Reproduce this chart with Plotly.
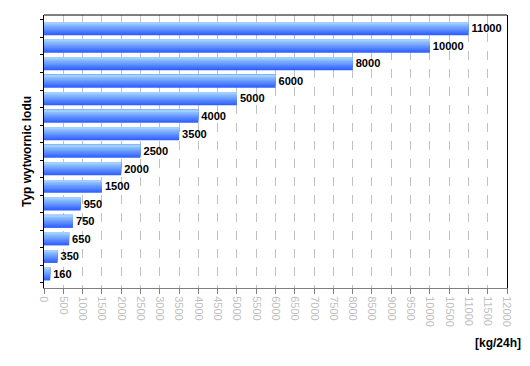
import plotly.graph_objects as go

categories = ["160", "350", "650", "750", "950", "1500", "2000", "2500",
              "3500", "4000", "5000", "6000", "8000", "10000", "11000"]
values = [160, 350, 650, 750, 950, 1500, 2000, 2500,
          3500, 4000, 5000, 6000, 8000, 10000, 11000]
x_ticks = list(range(0, 12001, 500))

# vertical gradient simulated with overlapping stripes (bottom -> top)
top_rgb = (160, 208, 255)
bot_rgb = (48, 96, 255)
n = 10
bar_w = 0.74
w = bar_w / n

fig = go.Figure()
for i in range(n):
    t = i / (n - 1)
    c = tuple(round(bot_rgb[k] + (top_rgb[k] - bot_rgb[k]) * t) for k in range(3))
    fig.add_trace(go.Bar(
        y=categories, x=values, orientation="h",
        width=bar_w - i * w, offset=-bar_w / 2 + i * w,
        marker=dict(color="rgb(%d,%d,%d)" % c, line=dict(width=0)),
        showlegend=False, hoverinfo="skip",
    ))

fig.add_trace(go.Bar(
    y=categories, x=values, orientation="h",
    width=bar_w, offset=-bar_w / 2,
    marker=dict(color="rgba(0,0,0,0)", line=dict(width=0)),
    text=[str(v) for v in values], textposition="outside",
    textfont=dict(family="Liberation Sans, Arial", size=12, color="black"),
    texttemplate="<b>%{text}</b>", cliponaxis=False,
    showlegend=False, hoverinfo="skip",
))

fig.update_layout(
    width=530, height=366,
    margin=dict(l=44, r=23, t=15, b=78),
    paper_bgcolor="white", plot_bgcolor="white",
    barmode="overlay",
    font=dict(family="Liberation Sans, Arial"),
    xaxis=dict(
        range=[0, 12000], tickvals=x_ticks, ticktext=[str(v) for v in x_ticks],
        tickangle=90, tickfont=dict(size=11, color="#c0c0c0"),
        showgrid=True, gridcolor="#c0c0c0", griddash="dash", gridwidth=1,
        showline=True, linecolor="#808080", linewidth=1,
        ticks="outside", ticklen=5, tickcolor="#808080",
        zeroline=False, fixedrange=True, automargin=False,
    ),
    yaxis=dict(
        type="category", categoryorder="array", categoryarray=categories,
        range=[-0.8, 14.78], showticklabels=False,
        ticks="outside", tickson="boundaries", ticklen=3, tickcolor="black",
        showline=True, linecolor="black", linewidth=1, mirror=True,
        showgrid=False, zeroline=False, automargin=False,
        title=dict(text="<b>Typ wytwornic lodu</b>", standoff=8,
                   font=dict(size=12, color="black")),
    ),
    shapes=[dict(type="line", xref="paper", yref="paper", x0=0, x1=1, y0=1, y1=1,
                 line=dict(color="black", width=1))],
    annotations=[dict(text="<b>[kg/24h]</b>", xref="paper", yref="paper",
                      x=1.0346, y=-0.2015, xanchor="right", yanchor="middle",
                      showarrow=False, font=dict(size=12, color="black"))],
)

fig.write_html("out.html", config={"displayModeBar": False},
               post_script="document.body.style.margin='0';document.body.style.overflow='hidden';")
